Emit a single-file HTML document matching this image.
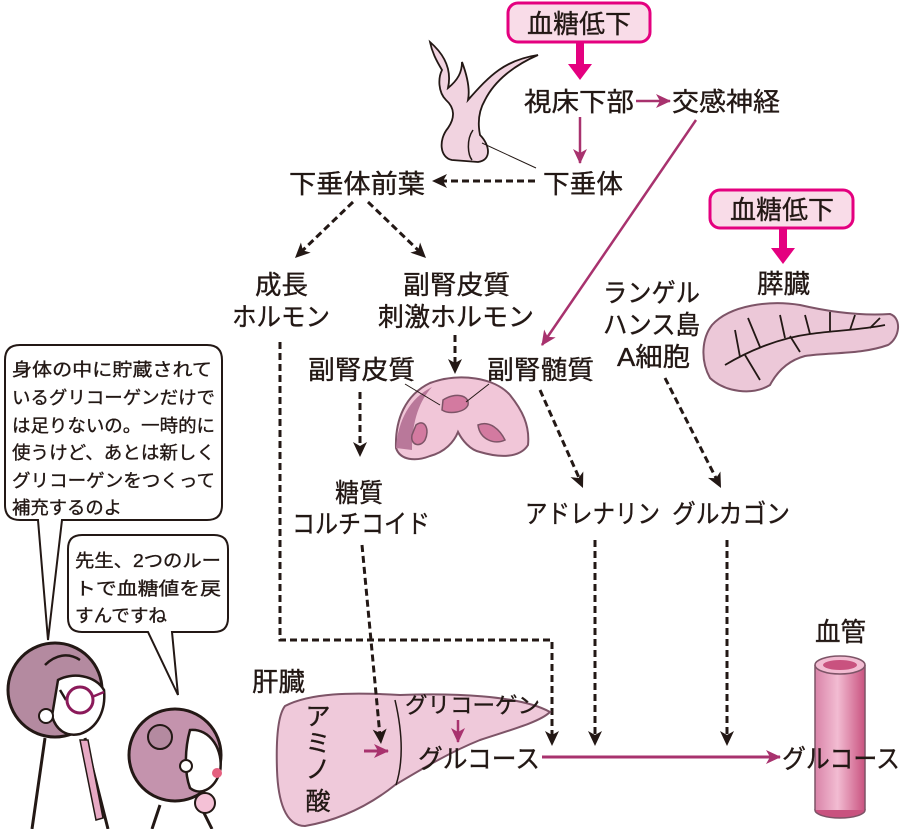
<!DOCTYPE html>
<html><head><meta charset="utf-8"><style>
html,body{margin:0;padding:0;background:#fff}
svg{display:block}
text{font-family:"Liberation Sans","Noto Sans CJK JP",sans-serif;fill:#231815;stroke:#231815;stroke-width:0.35}
</style></head><body>
<svg width="900" height="829" viewBox="0 0 900 829" xmlns="http://www.w3.org/2000/svg">
<defs>
<marker id="am" markerWidth="16" markerHeight="14" refX="14" refY="7" orient="auto" markerUnits="userSpaceOnUse"><path d="M0,0 L15,7 L0,14 L4,7 Z" fill="#a8326e" stroke="none"/></marker>
<linearGradient id="vg" x1="0" x2="1"><stop offset="0" stop-color="#d983a8"/><stop offset="0.45" stop-color="#f2bcd2"/><stop offset="1" stop-color="#c9527f"/></linearGradient>
</defs>

<!-- hypophysis drawing -->
<path d="M430,42 C445,55 452,70 448,88 C458,80 462,72 462,62 C468,78 470,90 468,100 C490,75 505,60 538,55 C515,65 495,80 485,100 C478,112 478,125 480,135 C490,145 492,160 478,162 L452,160 C440,158 438,140 448,128 C455,118 455,108 446,100 C438,92 438,78 442,70 C436,60 432,52 430,42 Z" fill="#f1d3e0" stroke="#231815" stroke-width="1.8"/>
<path d="M473,130 C466,140 468,155 472,160" fill="none" stroke="#231815" stroke-width="1.5"/>
<line x1="482" y1="143" x2="536" y2="168" stroke="#231815" stroke-width="1"/>

<!-- 血糖低下 boxes -->
<rect x="508" y="3" width="142" height="39" rx="10" fill="#f9dce8" stroke="#e4007f" stroke-width="3"/>
<text x="527" y="33" font-size="26" textLength="104" lengthAdjust="spacingAndGlyphs">血糖低下</text>
<path d="M576,42 h8 v22 h8 l-12,16 l-12,-16 h8 Z" fill="#e4007f"/>
<rect x="710" y="190" width="143" height="38" rx="10" fill="#f9dce8" stroke="#e4007f" stroke-width="3"/>
<text x="730" y="219" font-size="26" textLength="104" lengthAdjust="spacingAndGlyphs">血糖低下</text>
<path d="M779,228 h8 v20 h8 l-12,16 l-12,-16 h8 Z" fill="#e4007f"/>

<!-- main labels -->
<g font-size="26">
<text x="524" y="111" textLength="110" lengthAdjust="spacingAndGlyphs">視床下部</text>
<text x="672" y="111" textLength="108" lengthAdjust="spacingAndGlyphs">交感神経</text>
<text x="543" y="193" textLength="80" lengthAdjust="spacingAndGlyphs">下垂体</text>
<text x="289" y="193" textLength="136" lengthAdjust="spacingAndGlyphs">下垂体前葉</text>
<text x="757" y="293" textLength="53" lengthAdjust="spacingAndGlyphs">膵臓</text>
<text x="255" y="294" textLength="53" lengthAdjust="spacingAndGlyphs">成長</text>
<text x="232" y="326" textLength="98" lengthAdjust="spacingAndGlyphs">ホルモン</text>
<text x="403" y="294" textLength="107" lengthAdjust="spacingAndGlyphs">副腎皮質</text>
<text x="378" y="326" textLength="156" lengthAdjust="spacingAndGlyphs">刺激ホルモン</text>
<text x="603" y="302" textLength="97" lengthAdjust="spacingAndGlyphs">ランゲル</text>
<text x="603" y="334" textLength="97" lengthAdjust="spacingAndGlyphs">ハンス島</text>
<text x="617" y="366" textLength="73" lengthAdjust="spacingAndGlyphs">A細胞</text>
<text x="308" y="379" textLength="107" lengthAdjust="spacingAndGlyphs">副腎皮質</text>
<text x="487" y="379" textLength="107" lengthAdjust="spacingAndGlyphs">副腎髄質</text>
<text x="335" y="502" textLength="48" lengthAdjust="spacingAndGlyphs">糖質</text>
<text x="292" y="533" textLength="138" lengthAdjust="spacingAndGlyphs">コルチコイド</text>
<text x="525" y="523" textLength="135" lengthAdjust="spacingAndGlyphs">アドレナリン</text>
<text x="672" y="523" textLength="118" lengthAdjust="spacingAndGlyphs">グルカゴン</text>
<text x="815" y="641" textLength="51" lengthAdjust="spacingAndGlyphs">血管</text>
<text x="252" y="691" textLength="53" lengthAdjust="spacingAndGlyphs">肝臓</text>
</g>

<!-- magenta connectors -->
<line x1="636" y1="101" x2="670" y2="101" stroke="#a8326e" stroke-width="2.5" marker-end="url(#am)"/>
<line x1="580" y1="117" x2="580" y2="163" stroke="#a8326e" stroke-width="2.5" marker-end="url(#am)"/>
<line x1="696" y1="120" x2="542" y2="345" stroke="#a8326e" stroke-width="2.5" marker-end="url(#am)"/>

<!-- dashed connectors -->
<g stroke="#231815" stroke-width="3" stroke-dasharray="7,4" fill="none">
<line x1="535" y1="181" x2="440" y2="181"/>
<line x1="353" y1="202" x2="301" y2="252"/>
<line x1="368" y1="202" x2="420" y2="252"/>
<line x1="455" y1="335" x2="455" y2="366"/>
<line x1="360" y1="392" x2="360" y2="449"/>
<line x1="540" y1="390" x2="580" y2="480"/>
<line x1="665" y1="378" x2="717" y2="480"/>
<polyline points="280,342 280,640 552,640 552,738"/>
<line x1="595" y1="540" x2="595" y2="738"/>
<line x1="727" y1="540" x2="727" y2="738"/>
</g>
<g fill="#231815">
<path transform="translate(432,181) rotate(180)" d="M0,0 L-15,-7 L-11,0 L-15,7Z"/>
<path transform="translate(295,258) rotate(136)" d="M0,0 L-15,-7 L-11,0 L-15,7Z"/>
<path transform="translate(426,258) rotate(44)" d="M0,0 L-15,-7 L-11,0 L-15,7Z"/>
<path transform="translate(455,374) rotate(90)" d="M0,0 L-15,-7 L-11,0 L-15,7Z"/>
<path transform="translate(360,457) rotate(90)" d="M0,0 L-15,-7 L-11,0 L-15,7Z"/>
<path transform="translate(583,488) rotate(66)" d="M0,0 L-15,-7 L-11,0 L-15,7Z"/>
<path transform="translate(721,488) rotate(63)" d="M0,0 L-15,-7 L-11,0 L-15,7Z"/>
<path transform="translate(552,746) rotate(90)" d="M0,0 L-15,-7 L-11,0 L-15,7Z"/>
<path transform="translate(595,746) rotate(90)" d="M0,0 L-15,-7 L-11,0 L-15,7Z"/>
<path transform="translate(727,746) rotate(90)" d="M0,0 L-15,-7 L-11,0 L-15,7Z"/>
</g>

<!-- pancreas -->
<path d="M712,325 C730,305 770,300 800,305 C830,312 860,316 890,314 C902,318 900,338 888,345 C860,355 830,352 805,356 C790,360 778,370 770,385 C752,396 725,392 710,378 C700,360 702,338 712,325 Z" fill="#ecc8d8" stroke="#7d5467" stroke-width="2"/>
<g stroke="#231815" stroke-width="1.8" fill="none">
<path d="M725,365 C750,350 780,338 810,334 C840,330 860,330 885,325"/>
<path d="M740,357 L735,330 M760,347 L748,318 M785,338 L780,315 M810,334 L805,315 M830,332 L830,312 M850,330 L855,315 M870,328 L880,318 M790,336 L800,352 M745,355 L760,380"/>
</g>

<!-- adrenal -->
<path d="M396,448 C395,420 405,395 430,383 C460,372 495,378 510,395 C522,410 530,425 528,445 C520,458 500,458 480,452 C470,450 462,440 458,432 C454,442 445,452 430,456 C415,462 400,460 396,448 Z" fill="#f1c6d8" stroke="#7d5467" stroke-width="2"/>
<path d="M396,448 C398,420 410,398 432,387 C420,400 412,420 412,450 Z" fill="#b9789a"/>
<path d="M443,400 C455,392 470,395 468,405 C465,412 450,415 442,410 Z M416,425 C425,418 430,430 425,440 C420,448 410,445 412,435 Z M478,425 C490,420 500,430 505,440 C495,445 480,440 478,425 Z" fill="#d37aa0" stroke="#7d5467" stroke-width="1.5"/>
<line x1="405" y1="384" x2="440" y2="405" stroke="#231815" stroke-width="1"/>
<line x1="489" y1="384" x2="466" y2="402" stroke="#231815" stroke-width="1"/>

<!-- liver -->
<path d="M285,706 C310,693 350,692 400,695 C450,693 520,695 550,712 C540,722 510,730 480,740 C450,752 420,770 395,785 C370,805 340,820 305,826 C285,826 278,800 277,770 C276,740 278,715 285,706 Z" fill="#efc9da" stroke="#7d5467" stroke-width="2"/>
<path d="M395,700 C402,730 404,760 396,785" fill="none" stroke="#231815" stroke-width="1.5"/>
<line x1="362" y1="545" x2="380" y2="736" stroke="#231815" stroke-width="3" stroke-dasharray="7,4"/>
<path transform="translate(381,744) rotate(85)" d="M0,0 L-15,-7 L-11,0 L-15,7Z" fill="#231815"/>
<text x="405" y="713" font-size="22" textLength="135" lengthAdjust="spacingAndGlyphs">グリコーゲン</text>
<line x1="458" y1="720" x2="458" y2="742" stroke="#a8326e" stroke-width="2.5" marker-end="url(#am)"/>
<line x1="364" y1="751" x2="388" y2="751" stroke="#a8326e" stroke-width="3" marker-end="url(#am)"/>
<g font-size="25"><text x="318" y="725" text-anchor="middle">ア</text><text x="318" y="752" text-anchor="middle">ミ</text><text x="318" y="778" text-anchor="middle">ノ</text><text x="318" y="810" text-anchor="middle">酸</text></g>
<text x="418" y="768" font-size="26" textLength="122" lengthAdjust="spacingAndGlyphs">グルコース</text>
<line x1="542" y1="757" x2="780" y2="757" stroke="#a8326e" stroke-width="3" marker-end="url(#am)"/>

<!-- vessel -->
<ellipse cx="840" cy="810" rx="25" ry="8" fill="#c9527f" stroke="#7d5467" stroke-width="1.5"/>
<rect x="815" y="665" width="50" height="145" fill="url(#vg)"/>
<line x1="815" y1="665" x2="815" y2="810" stroke="#7d5467" stroke-width="1.5"/>
<line x1="865" y1="665" x2="865" y2="810" stroke="#7d5467" stroke-width="1.5"/>
<ellipse cx="840" cy="665" rx="25" ry="9" fill="#f2bcd2" stroke="#7d5467" stroke-width="1.5"/>
<ellipse cx="840" cy="665" rx="17" ry="5" fill="#c9527f"/>
<text x="782" y="768" font-size="26" textLength="118" lengthAdjust="spacingAndGlyphs">グルコース</text>

<!-- speech bubbles -->
<path d="M20,345 H207 Q222,345 222,360 V505 Q222,520 207,520 H62 L48,640 L38,520 H20 Q5,520 5,505 V360 Q5,345 20,345 Z" fill="#fff" stroke="#231815" stroke-width="2"/>
<g font-size="18" style="stroke-width:0.2">
<text x="12" y="376" textLength="200" lengthAdjust="spacingAndGlyphs">身体の中に貯蔵されて</text>
<text x="12" y="404" textLength="203" lengthAdjust="spacingAndGlyphs">いるグリコーゲンだけで</text>
<text x="12" y="432" textLength="203" lengthAdjust="spacingAndGlyphs">は足りないの。一時的に</text>
<text x="12" y="459" textLength="203" lengthAdjust="spacingAndGlyphs">使うけど、あとは新しく</text>
<text x="12" y="487" textLength="203" lengthAdjust="spacingAndGlyphs">グリコーゲンをつくって</text>
<text x="12" y="514" textLength="110" lengthAdjust="spacingAndGlyphs">補充するのよ</text>
</g>
<path d="M82,535 H214 Q228,535 228,549 V618 Q228,632 214,632 H172 L178,695 L148,632 H82 Q68,632 68,618 V549 Q68,535 82,535 Z" fill="#fff" stroke="#231815" stroke-width="2"/>
<g font-size="18" style="stroke-width:0.2">
<text x="75" y="567" textLength="146" lengthAdjust="spacingAndGlyphs">先生、2つのルー</text>
<text x="75" y="595" textLength="146" lengthAdjust="spacingAndGlyphs">トで血糖値を戻</text>
<text x="75" y="622" textLength="92" lengthAdjust="spacingAndGlyphs">すんですね</text>
</g>

<!-- teacher -->
<path d="M45,738 L32,829 M85,738 L108,829" stroke="#231815" stroke-width="3" fill="none"/>
<path d="M80,740 L96,820 L103,818 L88,740 Z" fill="#e7a9c4" stroke="#231815" stroke-width="1.5"/>
<circle cx="55" cy="690" r="47" fill="#b48aa0" stroke="#231815" stroke-width="3"/>
<path d="M58,680 C72,672 95,675 104,690 C106,710 98,728 80,734 C66,737 56,730 52,716 Z" fill="#fff" stroke="#231815" stroke-width="2.5"/>
<path d="M45,665 C55,655 68,652 80,660 M60,690 L66,700" stroke="#231815" stroke-width="2.5" fill="none"/>
<circle cx="80" cy="700" r="13" fill="none" stroke="#8b1a5a" stroke-width="3"/>
<line x1="92" y1="697" x2="104" y2="692" stroke="#8b1a5a" stroke-width="2.5"/>
<circle cx="46" cy="716" r="7" fill="#fff" stroke="#231815" stroke-width="2"/>
<!-- student -->
<path d="M160,805 L152,829 M200,805 L212,829" stroke="#231815" stroke-width="3"/>
<circle cx="205" cy="803" r="10" fill="#f4c1d6" stroke="#231815" stroke-width="2"/>
<circle cx="175" cy="755" r="46" fill="#c493ad" stroke="#231815" stroke-width="3"/>
<path d="M190,730 C210,728 224,750 220,772 C214,790 200,796 190,788 C184,772 185,748 190,730 Z" fill="#fff" stroke="#231815" stroke-width="2.5"/>
<circle cx="160" cy="737" r="12" fill="#b48aa0" stroke="#231815" stroke-width="2"/>
<circle cx="186" cy="766" r="6" fill="#fff" stroke="#231815" stroke-width="2"/>
<circle cx="217" cy="773" r="5" fill="#e4607f"/>
</svg>
</body></html>
